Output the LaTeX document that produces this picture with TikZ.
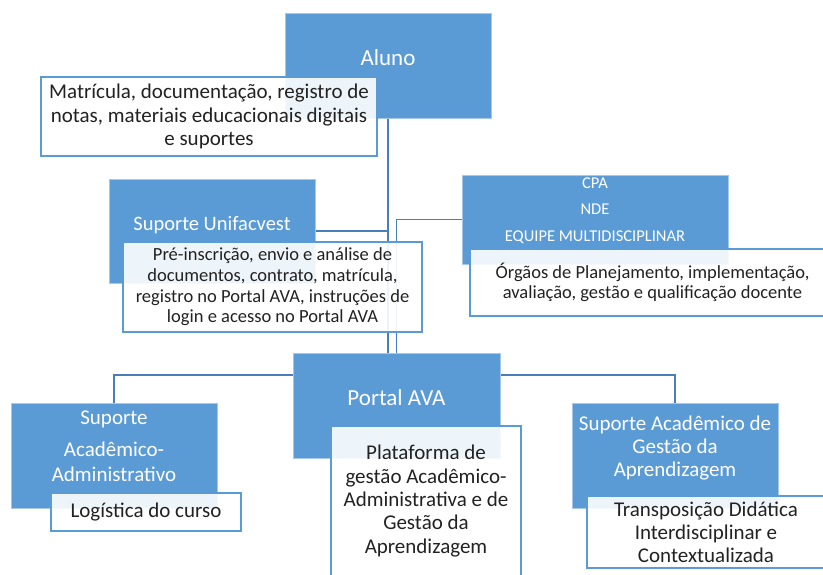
\documentclass[tikz,border=0pt]{standalone}
\usepackage{fontspec}
\setmainfont{Carlito}
\usetikzlibrary{backgrounds}
\definecolor{boxblue}{HTML}{5B9BD5}
\definecolor{lineblue}{HTML}{4A7EBB}
\definecolor{txtgray}{HTML}{222222}
\begin{document}
\begin{tikzpicture}[x=1pt,y=-1pt,
  bluebox/.style={fill=boxblue, draw=boxblue!55!white, line width=0.8pt, inner sep=0pt},
  bluelbl/.style={text=white, align=center, inner sep=0pt},
  descbox/.style={draw=boxblue, line width=1.4pt, fill=white, fill opacity=0.9, text opacity=1, text=txtgray, align=center, inner sep=0pt},
  conn/.style={draw=lineblue, line width=2pt}]
\useasboundingbox (0,0) rectangle (823,574);

% Aluno
\node[bluebox, minimum width=206pt, minimum height=105pt] (a) at (388,65.5) {};
\node[bluelbl, font=\fontsize{23}{26}\selectfont] (al) at (388,58) {Aluno};
\node[descbox, minimum width=336pt, minimum height=79pt, font=\fontsize{21}{23.5}\selectfont] (ad) at (209,116.5)
  {Matrícula, documentação, registro de\\notas, materiais educacionais digitais\\e suportes};

% Suporte Unifacvest
\node[bluebox, minimum width=206pt, minimum height=104pt] (u) at (212,231) {};
\node[bluelbl, font=\fontsize{20.5}{24}\selectfont] (ul) at (212,225) {Suporte Unifacvest};
\node[descbox, minimum width=299pt, minimum height=90pt, font=\fontsize{18.5}{20.7}\selectfont] (ud) at (272.5,287)
  {Pré-inscrição, envio e análise de\\documentos, contrato, matrícula,\\registro no Portal AVA, instruções de\\login e acesso no Portal AVA};

% CPA
\node[bluebox, minimum width=266pt, minimum height=89pt] (c) at (595,219.5) {};
\node[bluelbl, font=\fontsize{16.5}{26.5}\selectfont] (cl) at (595,210.5) {CPA\\NDE\\EQUIPE MULTIDISCIPLINAR};
\node[descbox, minimum width=365pt, minimum height=67pt, font=\fontsize{18.5}{20}\selectfont] (cd) at (652.5,282.5)
  {Órgãos de Planejamento, implementação,\\avaliação, gestão e qualificação docente};

% Portal AVA
\node[bluebox, minimum width=207pt, minimum height=105pt] (p) at (396.5,405.5) {};
\node[bluelbl, font=\fontsize{23}{26}\selectfont] (pl) at (396.5,398) {Portal AVA};
\node[descbox, minimum width=190pt, minimum height=150pt, font=\fontsize{21}{23.3}\selectfont] (pd) at (426,501)
  {Plataforma de\\gestão Acadêmico-\\Administrativa e de\\Gestão da\\Aprendizagem};

% Suporte Academico-Administrativo
\node[bluebox, minimum width=206pt, minimum height=105pt] (s1) at (114,455.5) {};
\node[bluelbl, font=\fontsize{21}{25}\selectfont] (s1l) at (114,446.5) {Suporte\\[7pt]Acadêmico-\\Administrativo};
\node[descbox, minimum width=190pt, minimum height=38pt, font=\fontsize{21}{23}\selectfont] (s1d) at (146,512) {Logística do curso};

% Suporte Academico de Gestao
\node[bluebox, minimum width=206pt, minimum height=105pt] (s2) at (675,455.5) {};
\node[bluelbl, font=\fontsize{21}{23}\selectfont] (s2l) at (675,448) {Suporte Acadêmico de\\Gestão da\\Aprendizagem};
\node[descbox, minimum width=238pt, minimum height=72pt, font=\fontsize{21}{23}\selectfont] (s2d) at (706,532)
  {Transposição Didática\\Interdisciplinar e\\Contextualizada};

\coordinate (bus) at (0,375);

\begin{scope}[on background layer]
  \fill[white] (0,0) rectangle (823,574);
  \draw[conn] (a.south) -- (a.south |- p.north);
  \draw[conn, line width=1.6pt] (p.north) |- (c.west);
  \draw[conn] (u.east) -- (u.east -| a.south);
  \draw[conn] (s1.north) |- (p.west |- bus);
  \draw[conn] (s2.north) |- (p.east |- bus);
\end{scope}
\end{tikzpicture}
\end{document}
